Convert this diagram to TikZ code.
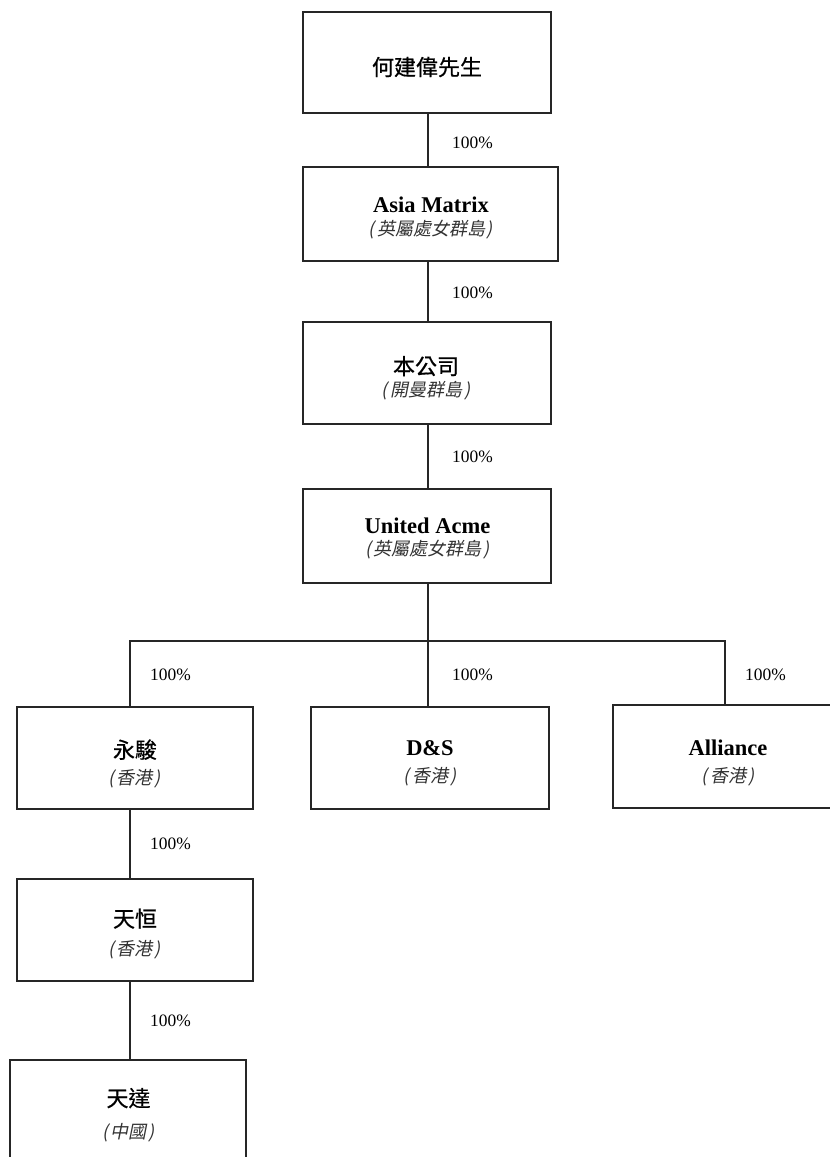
\documentclass[tikz,border=0pt]{standalone}
\usepackage{fontspec}
\setmainfont{Liberation Serif}
\newfontfamily\cjk[FakeBold=0.6]{Noto Sans CJK TC}
\newfontfamily\cjkit[FakeSlant=0.2]{Noto Sans CJK TC}
\newcommand{\place}[1]{{\cjkit\fontsize{18}{24}\selectfont\color{black!80}(\kern2pt#1\kern2pt)}}
\tikzset{
  entity/.style={draw=black!85, line width=1.5pt, inner sep=0pt},
  nametext/.style={inner sep=0pt, align=center, font=\fontsize{22}{24}\selectfont},
  share/.style={anchor=west, inner sep=0pt, font=\fontsize{17.4}{17.4}\selectfont},
  link/.style={draw=black!85, line width=1.5pt},
}
\begin{document}
\begin{tikzpicture}[x=1pt,y=-1pt]
            \path[use as bounding box] (0,0) rectangle (830,1157);
            \clip (0,0) rectangle (830,1157);

            % Marking box mr
            \node (mr) at (427,62.5) [entity, minimum width=248pt, minimum height=101pt] {};
            \node (mr-t) at (427,67) [nametext] {\cjk 何建偉先生};

            % Marking box asia
            \node (asia) at (430.5,214) [entity, minimum width=255pt, minimum height=94pt] {};
            \node (asia-t) at (431,217.5) [nametext] {\fontsize{22.5}{24}\selectfont\bfseries Asia Matrix\\[-1pt] \place{英屬處女群島}};

            % Marking box company
            \node (company) at (427,373) [entity, minimum width=248pt, minimum height=102pt] {};
            \node (company-t) at (426,378) [nametext] {\cjk 本公司\\[-2pt] \place{開曼群島}};

            % Marking box acme
            \node (acme) at (427,536) [entity, minimum width=248pt, minimum height=94pt] {};
            \node (acme-t) at (427.5,538.5) [nametext] {\fontsize{22.5}{24}\selectfont\bfseries United Acme\\[-2pt] \place{英屬處女群島}};

            % Marking box wj
            \node (wj) at (135,758) [entity, minimum width=236pt, minimum height=102pt] {};
            \node (wj-t) at (135,763.5) [nametext] {\cjk 永駿\\[2pt] \place{香港}};

            % Marking box ds
            \node (ds) at (430,758) [entity, minimum width=238pt, minimum height=102pt] {};
            \node (ds-t) at (430,763) [nametext] {\fontsize{22.5}{24}\selectfont\bfseries D\&S\\[3pt] \place{香港}};

            % Marking box al
            \node (al) at (728,756.5) [entity, minimum width=230pt, minimum height=103pt] {};
            \node (al-t) at (728,763) [nametext] {\fontsize{22.5}{24}\selectfont\bfseries Alliance\\[3pt] \place{香港}};

            % Marking box th
            \node (th) at (135,930) [entity, minimum width=236pt, minimum height=102pt] {};
            \node (th-t) at (135,934) [nametext] {\cjk 天恒\\[5pt] \place{香港}};

            % Marking box td
            \node (td) at (128,1111) [entity, minimum width=236pt, minimum height=102pt] {};
            \node (td-t) at (128.5,1115) [nametext] {\cjk 天達\\[8pt] \place{中國}};

            % Marking bar ends
            \coordinate (bl) at (130,641);
            \coordinate (bm) at (428,641);
            \coordinate (br) at (725,641);

            % Drawing links down the main chain
            \draw [link] (bm |- mr.south) -- (bm |- asia.north);
            \draw [link] (bm |- asia.south) -- (bm |- company.north);
            \draw [link] (bm |- company.south) -- (bm |- acme.north);
            \draw [link] (bm |- acme.south) -- (bm |- ds.north);

            % Drawing bar and drops
            \draw [link] (bl |- wj.north) -- (bl) -- (br) -- (br |- al.north);

            % Drawing links below wj
            \draw [link] (bl |- wj.south) -- (bl |- th.north);
            \draw [link] (bl |- th.south) -- (bl |- td.north);

            % Marking shares
            \node (s1) at (452,143) [share] {100\%};
            \node (s2) at (452,293) [share] {100\%};
            \node (s3) at (452,457) [share] {100\%};
            \node (s4) at (150,675) [share] {100\%};
            \node (s5) at (452,675) [share] {100\%};
            \node (s6) at (745,675) [share] {100\%};
            \node (s7) at (150,844) [share] {100\%};
            \node (s8) at (150,1021) [share] {100\%};
\end{tikzpicture}
\end{document}
